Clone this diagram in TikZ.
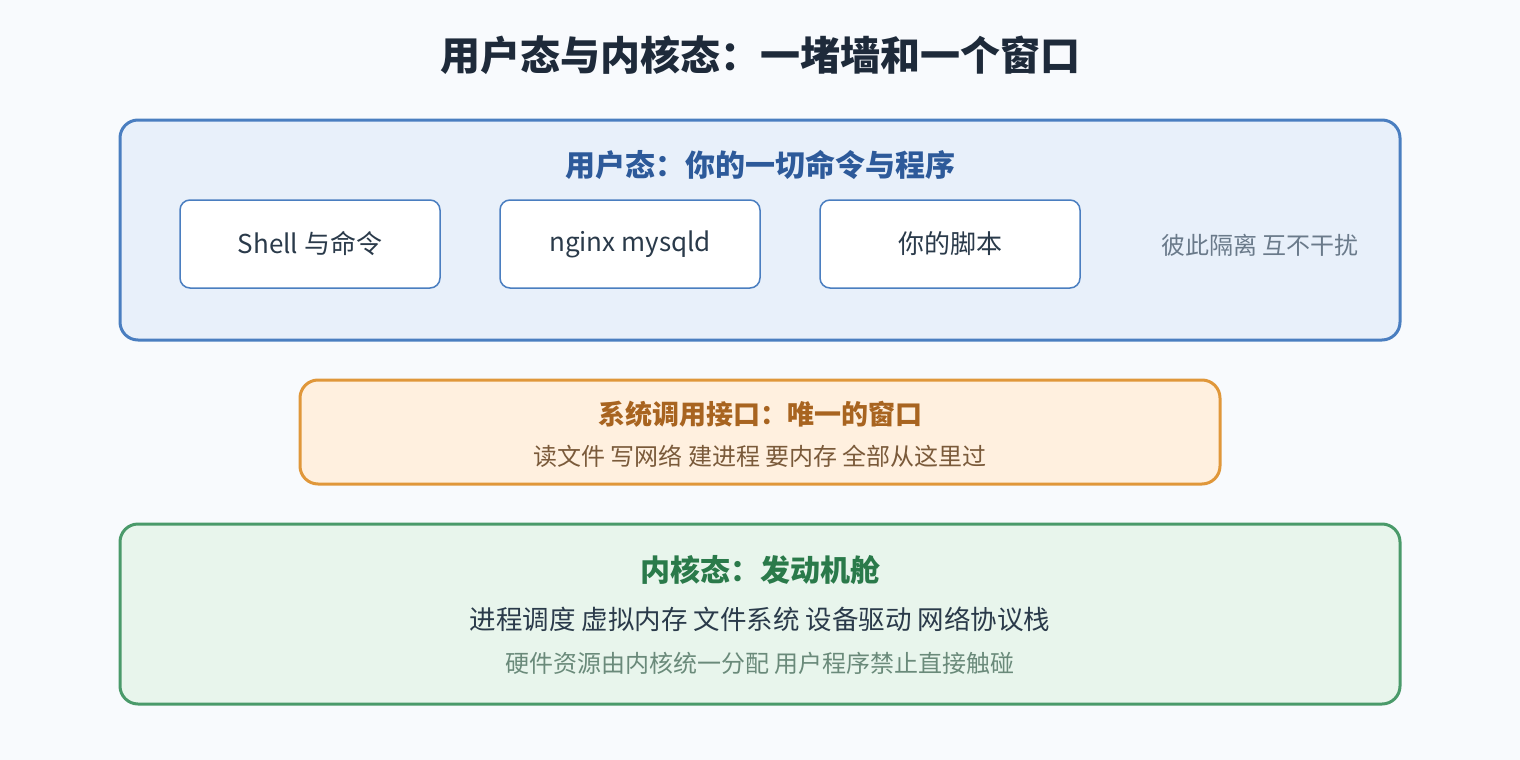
\documentclass[tikz,border=0pt]{standalone}
\usepackage{fontspec}
\setmainfont{Noto Sans CJK SC}
\usepackage{xcolor}
\usetikzlibrary{positioning}
\definecolor{bgc}{HTML}{F8FAFD}
\definecolor{titlec}{HTML}{1E2A3A}
\definecolor{userfill}{HTML}{E8F0FA}
\definecolor{userdraw}{HTML}{4A7EC0}
\definecolor{userhead}{HTML}{2D5A9A}
\definecolor{sysfill}{HTML}{FFF0DF}
\definecolor{sysdraw}{HTML}{E0973A}
\definecolor{syshead}{HTML}{A86420}
\definecolor{systext}{HTML}{7A5A3A}
\definecolor{kernfill}{HTML}{E8F5EC}
\definecolor{kerndraw}{HTML}{4A9A6A}
\definecolor{kernhead}{HTML}{2A7A4A}
\definecolor{kernnote}{HTML}{6A8A7A}
\definecolor{bodyc}{HTML}{2A3A4A}
\definecolor{grayc}{HTML}{6A7A8A}
\tikzset{
    layer/.style = {rounded corners=18pt, line width=3pt},
    prog/.style = {draw=userdraw, fill=white, line width=1.5pt, rounded corners=10pt,
        minimum width=260pt, minimum height=88pt, text=bodyc, font=\fontsize{26}{30}\selectfont},
    head/.style = {font=\fontsize{30}{34}\selectfont\bfseries},
    body/.style = {font=\fontsize{24}{28}\selectfont}
}
\begin{document}
\begin{tikzpicture}[x=1pt, y=-1pt]
            \fill[bgc] (0,0) rectangle (1520,760);
            \useasboundingbox (0,0) rectangle (1520,760);

            \node (title) [font=\fontsize{40}{44}\selectfont\bfseries, text=titlec] at (760,55) {用户态与内核态：一堵墙和一个窗口};

            % user space
            \draw[layer, draw=userdraw, fill=userfill] (120,120) rectangle (1400,340);
            \node (userhead) [head, text=userhead] at (760,165) {用户态：你的一切命令与程序};
            \node (shell) [prog] at (310,244) {Shell 与命令};
            \node (daemons) [prog, right=58.5pt of shell] {nginx mysqld};
            \node (script) [prog, right=58.5pt of daemons] {你的脚本};
            \node (isolate) [body, text=grayc] at (1260,245) {彼此隔离 互不干扰};

            % syscall
            \draw[layer, draw=sysdraw, fill=sysfill] (300,380) rectangle (1220,484);
            \node (syshead) [head, font=\fontsize{27}{30}\selectfont\bfseries, text=syshead] at (760,414) {系统调用接口：唯一的窗口};
            \node (systext) [body, text=systext] at (760,456) {读文件 写网络 建进程 要内存 全部从这里过};

            % kernel
            \draw[layer, draw=kerndraw, fill=kernfill] (120,524) rectangle (1400,704);
            \node (kernhead) [head, text=kernhead] at (760,570) {内核态：发动机舱};
            \node (kernparts) [font=\fontsize{26.5}{30}\selectfont, text=bodyc] at (760,619) {进程调度 虚拟内存 文件系统 设备驱动 网络协议栈};
            \node (kernnote) [body, text=kernnote] at (760,663) {硬件资源由内核统一分配 用户程序禁止直接触碰};
\end{tikzpicture}
\end{document}
